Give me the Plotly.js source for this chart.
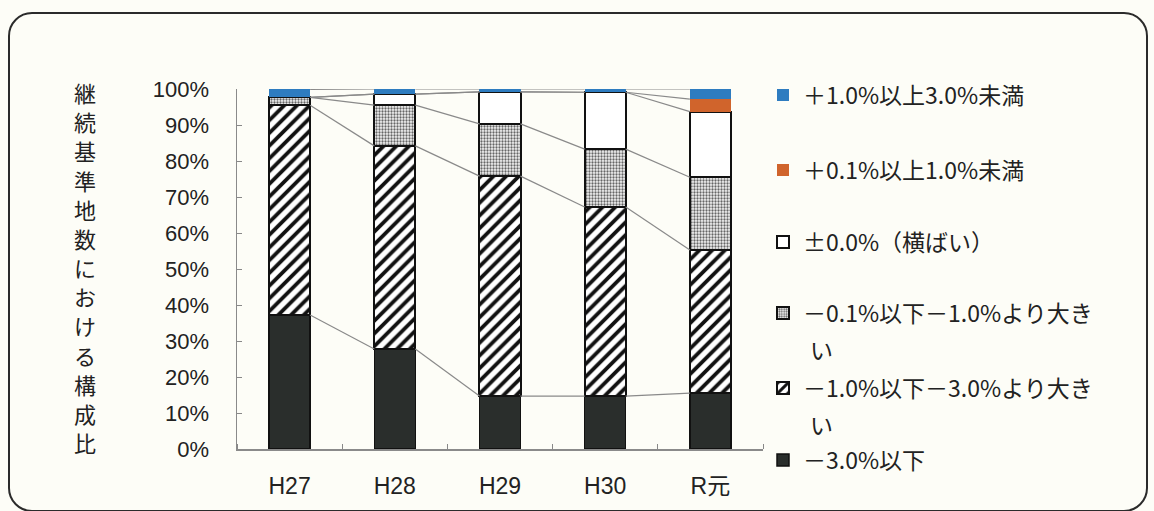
<!DOCTYPE html>
<html>
<head>
<meta charset="utf-8">
<script src="https://cdn.plot.ly/plotly-3.0.1.min.js"></script>
<style>
  html, body { margin: 0; padding: 0; background: #fdfdf7; }
  #wrap { position: relative; width: 1154px; height: 511px; overflow: hidden; background: #fdfdf7; }
  #frame { position: absolute; left: 8px; top: 12px; width: 1136px; height: 496px;
           border: 2px solid #2b2b2b; border-radius: 24px; pointer-events: none; }
  #chart { position: absolute; left: 0; top: 0; width: 1154px; height: 511px; }
</style>
</head>
<body>
<div id="wrap">
  <div id="chart"></div>
  <div id="frame"></div>
</div>
<script>
// ---- data (percent composition) ----
const categories = ['H27', 'H28', 'H29', 'H30', 'R元'];
const s_le_m3   = [37.2, 27.8, 14.7, 14.7, 15.5];   // －3.0%以下
const s_m3_m1   = [58.3, 56.4, 61.1, 52.5, 39.8];   // －1.0%以下－3.0%より大きい
const s_m1_m01  = [2.2, 11.3, 14.5, 16.1, 20.2];    // －0.1%以下－1.0%より大きい
const s_flat    = [0.0, 3.1, 8.9, 15.8, 18.2];      // ±0.0%（横ばい）
const s_p01_p1  = [0.0, 0.0, 0.0, 0.0, 3.5];        // ＋0.1%以上1.0%未満
const s_p1_p3   = [2.2, 1.4, 0.8, 0.9, 2.8];        // ＋1.0%以上3.0%未満

// legend labels; '|' marks where the reference wraps the label onto a second line
const seriesNames = [
  '－3.0%以下',
  '－1.0%以下－3.0%より大き|い',
  '－0.1%以下－1.0%より大き|い',
  '±0.0%（横ばい）',
  '＋0.1%以上1.0%未満',
  '＋1.0%以上3.0%未満'
];
const yTickVals = [0, 10, 20, 30, 40, 50, 60, 70, 80, 90, 100];
const yTickLabels = ['0%', '10%', '20%', '30%', '40%', '50%', '60%', '70%', '80%', '90%', '100%'];
const yTitle = '継続基準地数における構成比';

// ---- styling ----
const seriesData = [s_le_m3, s_m3_m1, s_m1_m01, s_flat, s_p01_p1, s_p1_p3];
const xIdx = categories.map((_, i) => i);
const barW = 0.39;
const font = 'Liberation Sans, Arial, Noto Sans CJK JP, sans-serif';
const jpFont = 'Noto Sans CJK JP, sans-serif';

const markers = [
  {color: '#2a2e2c', line: {color: '#111', width: 1.5}},
  {color: '#ffffff', line: {color: '#111', width: 2},
   pattern: {shape: '/', fgcolor: '#111', bgcolor: '#ffffff', size: 9, solidity: 0.42}},
  {color: '#ffffff', line: {color: '#111', width: 2},
   pattern: {shape: '.', fgcolor: '#666', bgcolor: '#f4f4f4', size: 3, solidity: 0.45}},
  {color: '#ffffff', line: {color: '#111', width: 2}},
  {color: '#d0642c', line: {color: '#d0642c', width: 0}},
  {color: '#2e7cc0', line: {color: '#2e7cc0', width: 0}}
];

// legend row centres (pixel rows of the reference) converted to paper coords
const plotTop = 89, plotBottom = 449;
const legendRows = [460, 388, 313, 242, 170, 95];
const wrapRowGap = 36;
const legendNames = ['legend', 'legend2', 'legend3', 'legend4', 'legend5', 'legend6'];
const toPaperY = py => (plotBottom - py) / (plotBottom - plotTop);
const toPaperX = px => (px - 237) / 526;

const traces = seriesData.map((vals, k) => ({
  type: 'bar',
  x: xIdx,
  y: vals,
  width: barW,
  name: seriesNames[k].split('|')[0],
  marker: markers[k],
  legend: legendNames[k],
  hoverinfo: 'y+name'
}));

// series lines connecting cumulative tops between adjacent bars
const cum = [];
let run = categories.map(() => 0);
seriesData.forEach(vals => {
  run = run.map((v, i) => v + vals[i]);
  cum.push(run.slice());
});
const lx = [], ly = [];
cum.forEach(level => {
  for (let i = 0; i < categories.length - 1; i++) {
    lx.push(i + barW / 2, i + 1 - barW / 2, null);
    ly.push(level[i], level[i + 1], null);
  }
});
traces.push({
  type: 'scatter', mode: 'lines', x: lx, y: ly,
  line: {color: '#8a8a8a', width: 1.2},
  showlegend: false, hoverinfo: 'skip'
});

const annotations = Array.from(yTitle).map((ch, i, arr) => ({
  text: ch, showarrow: false,
  xref: 'paper', yref: 'paper',
  x: toPaperX(85),
  y: toPaperY(92 + i * (442 - 92) / (arr.length - 1)),
  xanchor: 'center', yanchor: 'middle',
  font: {family: jpFont, size: 22, color: '#222'}
}));
// wrapped continuation of long legend labels
seriesNames.forEach((nm, k) => {
  const parts = nm.split('|');
  if (parts.length > 1) {
    annotations.push({
      text: parts[1], showarrow: false,
      xref: 'paper', yref: 'paper',
      x: toPaperX(808), y: toPaperY(legendRows[k] + wrapRowGap),
      xanchor: 'left', yanchor: 'middle',
      font: {family: jpFont, size: 23, color: '#222'}
    });
  }
});

const layout = {
  width: 1154, height: 511,
  margin: {l: 237, r: 391, t: plotTop, b: 511 - plotBottom},
  paper_bgcolor: 'rgba(0,0,0,0)',
  plot_bgcolor: 'rgba(0,0,0,0)',
  barmode: 'stack',
  showlegend: true,
  font: {family: font, color: '#222', size: 20},
  xaxis: {
    range: [-0.5, categories.length - 0.5],
    tickmode: 'array', tickvals: xIdx, ticktext: categories,
    ticks: '', ticklabelstandoff: 16,
    minor: {tick0: 0.5, dtick: 1, ticks: 'inside', ticklen: 5, tickcolor: '#888'},
    showline: true, linecolor: '#8a8a8a', linewidth: 1.5,
    showgrid: false, zeroline: false, fixedrange: true,
    tickfont: {family: font, size: 23, color: '#222'}
  },
  yaxis: {
    range: [0, 100],
    tickmode: 'array', tickvals: yTickVals, ticktext: yTickLabels,
    ticks: 'inside', ticklen: 5, tickcolor: '#888',
    ticklabelstandoff: 22,
    showline: true, linecolor: '#8a8a8a', linewidth: 1.5,
    showgrid: false, zeroline: false, fixedrange: true,
    tickfont: {family: font, size: 22, color: '#222'}
  },
  annotations: annotations
};

legendNames.forEach((ln, k) => {
  layout[ln] = {
    x: 1.0, xanchor: 'left',
    y: toPaperY(legendRows[k]), yanchor: 'middle',
    bgcolor: 'rgba(0,0,0,0)', borderwidth: 0,
    font: {family: jpFont, size: 23, color: '#222'}
  };
});

Plotly.newPlot('chart', traces, layout, {displayModeBar: false, staticPlot: true});
</script>
</body>
</html>
